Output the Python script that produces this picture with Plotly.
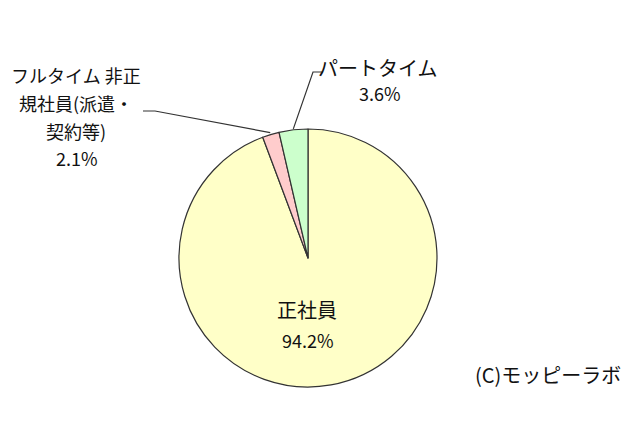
import math
import plotly.graph_objects as go

labels = ["正社員", "フルタイム非正規社員(派遣・契約等)", "パートタイム"]
values = [94.2, 2.1, 3.6]
colors = ["#FFFFC8", "#FFCCCC", "#CCFFCC"]
label_lines = [["正社員"], ["フルタイム 非正", "規社員(派遣・", "契約等)"], ["パートタイム"]]
pct_text = ["94.2%", "2.1%", "3.6%"]
credit = "(C)モッピーラボ"

W, H = 640, 426
cx, cy, R = 308, 258, 129
PAGE_OFF = 8  # default page body margin shifts the figure

def px(x):
    return (x - PAGE_OFF) / W

def py(y):
    return 1 - (y - PAGE_OFF) / H

fig = go.Figure(go.Pie(
    labels=labels, values=values, sort=False, direction="clockwise", rotation=0,
    marker=dict(colors=colors, line=dict(color="#333333", width=1.2)),
    textinfo="none", hoverinfo="label+percent", showlegend=False,
    domain=dict(x=[px(cx - R), px(cx + R)], y=[py(cy + R), py(cy - R)]),
))

# slice mid-angles (degrees clockwise from 12 o'clock)
total = sum(values)
mids = []
acc = 0
for v in values:
    mids.append((acc + v / 2) / total * 360)
    acc += v

def edge_point(deg, r=R):
    a = math.radians(deg)
    return cx + r * math.sin(a), cy - r * math.cos(a)

font = "Noto Sans CJK JP, sans-serif"
LS, PS = 20, 18
TC = "#111111"
ann = []
shapes = []

def add_text(x, y, t, size, xanchor="center"):
    ann.append(dict(x=px(x), y=py(y), text=t, showarrow=False,
                    font=dict(family=font, size=size, color=TC),
                    xanchor=xanchor, yanchor="middle"))

# 正社員 inside
add_text(307, 309, label_lines[0][0], LS)
add_text(308, 340, pct_text[0], PS)

# フルタイム非正規
for i, t in enumerate(label_lines[1]):
    add_text(76, 75 + 28 * i, t, 18)
add_text(77, 158, pct_text[1], PS)
ex, ey = edge_point(mids[1], R + 2)
shapes.append(dict(type="path", xref="paper", yref="paper",
                   path=f"M {px(143)} {py(111)} L {px(155)} {py(111)} L {px(ex)} {py(ey)}",
                   line=dict(color="#333333", width=1.2)))

# パートタイム
add_text(378, 67, label_lines[2][0], LS)
add_text(380, 93, pct_text[2], PS)
ex, ey = edge_point(mids[2], R + 1)
shapes.append(dict(type="path", xref="paper", yref="paper",
                   path=f"M {px(323)} {py(72)} L {px(313)} {py(72)} L {px(ex)} {py(ey)}",
                   line=dict(color="#333333", width=1.2)))

# credit
add_text(623, 374, credit, 20, xanchor="right")

fig.update_layout(
    width=W, height=H, margin=dict(l=0, r=0, t=0, b=0),
    paper_bgcolor="white", plot_bgcolor="white",
    annotations=ann, shapes=shapes,
)

fig.write_html("out.html")
